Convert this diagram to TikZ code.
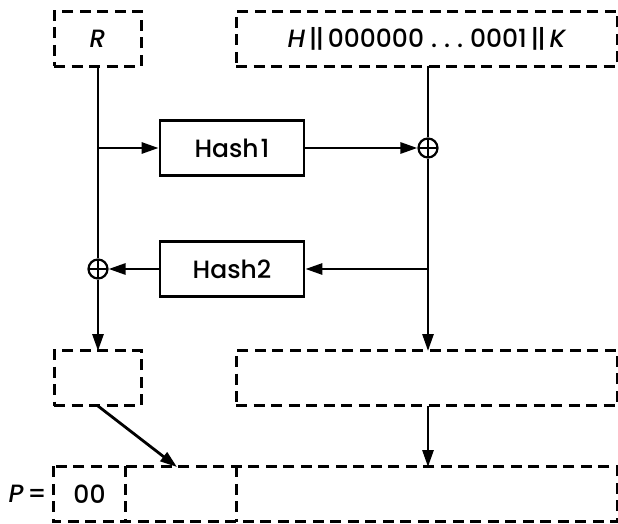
\documentclass[tikz,border=0pt]{standalone}
\usepackage{fontspec}
\setmainfont{Poppins}[UprightFont={* Medium}, ItalicFont={* Medium Italic}]
\usetikzlibrary{arrows.meta}
\tikzset{
  dashline/.style={line width=3pt, dash pattern=on 11pt off 6.5pt},
  dbox/.style={draw, dashline, minimum width=#1, minimum height=55pt, inner sep=0pt, anchor=center},
  cell/.style={minimum width=#1, minimum height=55pt, inner sep=0pt, anchor=center},
  hbox/.style={draw, line width=2.8pt, minimum width=144pt, minimum height=55pt, inner sep=0pt, font=\fontsize{25}{25}\selectfont},
  xorsym/.style={draw, circle, line width=2.2pt, minimum size=19pt, inner sep=0pt, path picture={\draw[line width=2.2pt] (path picture bounding box.north) -- (path picture bounding box.south) (path picture bounding box.west) -- (path picture bounding box.east);}},
  wire/.style={line width=2.8pt},
  arr/.style={wire, -{Triangle[length=17pt,width=11pt]}},
  lbl/.style={font=\fontsize{25}{25}\selectfont}
}
\begin{document}
\begin{tikzpicture}[x=1pt,y=-1pt]
\useasboundingbox (0,0) rectangle (618,524);
% top row
\node[dbox=87pt, lbl] (R) at (97.5,39) {\itshape R};
\node[dbox=381pt, lbl] (HK) at (426.5,39) {\itshape H\upshape\kern4pt|\kern-1.5pt|\kern4pt000000\kern7pt.\kern7pt.\kern7pt.\kern7pt0001\kern4pt|\kern-1.5pt|\kern4pt\itshape K};
% hash boxes
\node[hbox] (h1) at (232,148) {Hash\kern2pt1};
\node[hbox] (h2) at (232,269) {Hash2};
% xors
\node[xorsym] (x1) at (428,148) {};
\node[xorsym] (x2) at (98,269) {};
% middle row
\node[dbox=87pt] (m1) at (97.5,378) {};
\node[dbox=381pt] (m2) at (426.5,378) {};
% bottom row (one dashed box split into three cells)
\node[cell=72pt, lbl] (b1) at (89.5,494) {00};
\node[cell=111pt] (b2) at (181,494) {};
\node[cell=381pt] (b3) at (426.5,494) {};
\draw[dashline] (b1.north west) rectangle (b3.south east);
\draw[dashline] (b1.north east) -- (b1.south east);
\draw[dashline] (b2.north east) -- (b2.south east);
\node[lbl, anchor=east] (P) at (b1.west) {\itshape P\upshape\kern4pt=\kern3pt};
% coordinates
\coordinate (c1) at (98,148);
\coordinate (c2) at (428,269);
\coordinate (rs) at (98,66);
\coordinate (hs) at (428,66);
\coordinate (m1s) at (98,406);
\coordinate (m2s) at (428,406);
\coordinate (m1n) at (98,351);
\coordinate (m2n) at (428,351);
\coordinate (b2n) at (177,467);
\coordinate (b3n) at (428,467);
% connectors
\draw[wire] (rs) -- (x2.north);
\draw[arr] (x2.south) -- (m1n);
\draw[arr] (c1) -- (h1.west);
\draw[arr] (h1.east) -- (x1.west);
\draw[wire] (hs) -- (x1.north);
\draw[arr] (x1.south) -- (m2n);
\draw[arr] (c2) -- (h2.east);
\draw[arr] (h2.west) -- (x2.east);
\draw[arr] (m1s) -- (b2n);
\draw[arr] (m2s) -- (b3n);
\end{tikzpicture}
\end{document}
